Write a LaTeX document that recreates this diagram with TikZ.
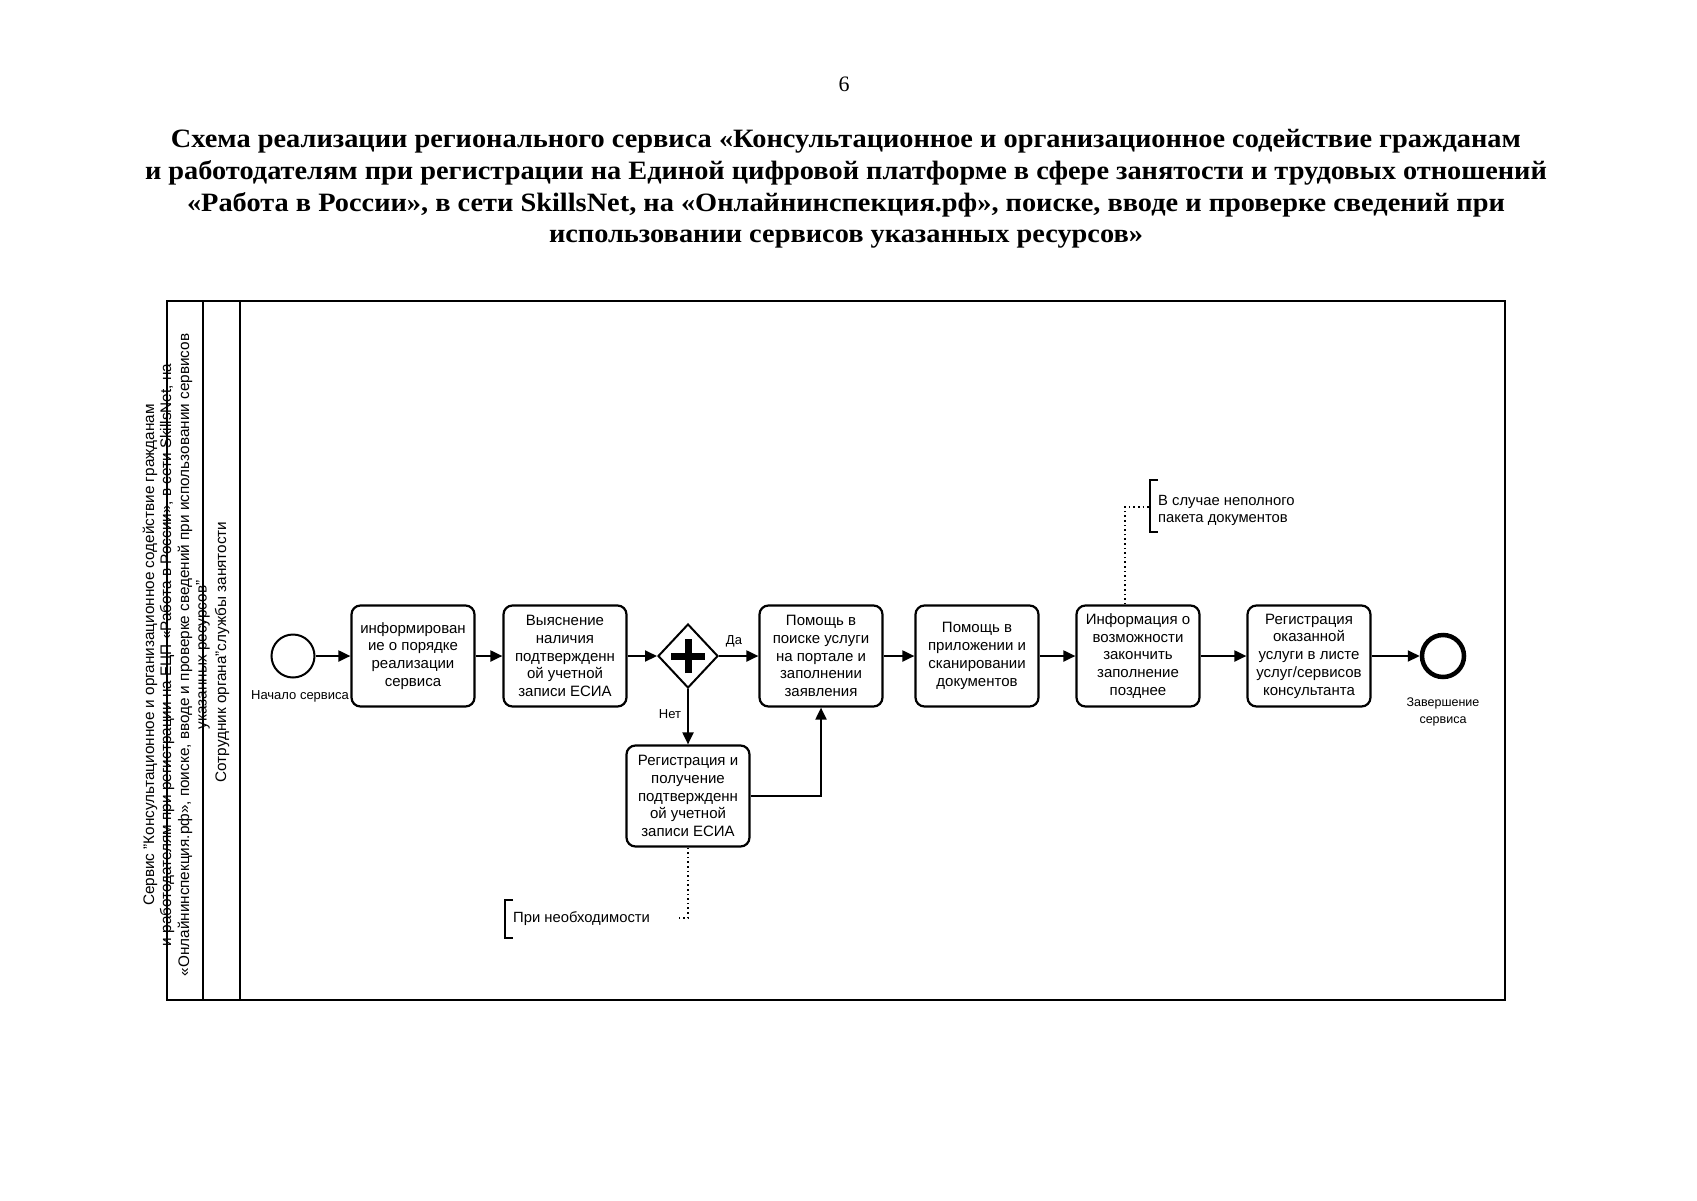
\documentclass[tikz,border=0pt]{standalone}
\usepackage{fontspec}
\setmainfont{Liberation Sans}
\newfontfamily\titlefont{Liberation Serif}
\newfontfamily\titlewide[FakeStretch=1.07]{Liberation Serif}
\usetikzlibrary{arrows.meta,shapes.geometric}
\begin{document}
\begin{tikzpicture}[x=1pt,y=-1pt,
  task/.style={draw, line width=2.2pt, rounded corners=9pt, minimum width=123pt, minimum height=101pt, align=center, font=\fontsize{15}{17.8}\selectfont, inner sep=1pt},
  flow/.style={line width=2pt, -{Triangle[length=12pt,width=11pt]}},
  assoc/.style={line width=2pt, dash pattern=on 1.6pt off 3pt},
  lbl/.style={font=\fontsize{13}{16}\selectfont, inner sep=0pt},
  lane/.style={rotate=90, font=\fontsize{15.3}{17}\selectfont, inner sep=0pt},
  note/.style={draw=none, align=left, anchor=west, inner xsep=8pt, font=\fontsize{14.8}{17}\selectfont},
  bracket/.style={line width=2pt},
]
\useasboundingbox (0,0) rectangle (1697,1200);
\fill[white] (0,0) rectangle (1697,1200);

% header
\node[font=\titlefont\fontsize{22}{26}\selectfont] (pg) at (844,84) {6};
\node[align=center, font=\titlewide\bfseries\fontsize{26.5}{31.7}\selectfont] (title) at (846,189)
 {Схема реализации регионального сервиса «Консультационное и организационное содействие гражданам\\
  и работодателям при регистрации на Единой цифровой платформе в сфере занятости и трудовых отношений\\
  «Работа в России», в сети SkillsNet, на «Онлайнинспекция.рф», поиске, вводе и проверке сведений при\\
  использовании сервисов указанных ресурсов»};

% pool and lanes
\draw[line width=2pt] (167,301) rectangle (1505,1000);
\draw[line width=2pt] (203,301) -- (203,1000);
\draw[line width=2pt] (240,301) -- (240,1000);
\node[lane] (l1a) at (150,655) {Сервис "Консультационное и организационное содействие гражданам};
\node[lane] (l1b) at (167,655) {и работодателям при регистрации на ЕЦП «Работа в России», в сети SkillsNet, на};
\node[lane] (l1c) at (185,655) {«Онлайнинспекция.рф», поиске, вводе и проверке сведений при использовании сервисов};
\node[lane] (l1d) at (203,655) {указанных ресурсов"};
\node[lane] (l2) at (222,652) {Сотрудник органа"службы занятости};

% events
\node[draw, circle, line width=2pt, minimum size=43pt, inner sep=0pt] (s) at (293,656) {};
\node[lbl] (sl) at (300,696) {Начало сервиса};
\node[draw, circle, line width=4.5pt, minimum size=42pt, inner sep=0pt] (e) at (1443,656) {};
\node[lbl, align=center, font=\fontsize{12.5}{16.5}\selectfont] (el) at (1443,712) {Завершение\\сервиса};

% tasks
\node[task] (t1) at (413,656) {информирован\\ие о порядке\\реализации\\сервиса};
\node[task] (t2) at (565,656) {Выяснение\\наличия\\подтвержденн\\ой учетной\\записи ЕСИА};
\node[draw, diamond, line width=2pt, minimum width=60pt, minimum height=64pt, inner sep=0pt] (g) at (688,656) {};
\draw[line width=7pt] ([xshift=-17pt]g.center) -- ([xshift=17pt]g.center);
\draw[line width=7pt] ([yshift=-17pt]g.center) -- ([yshift=17pt]g.center);
\node[task] (t3) at (821,656) {Помощь в\\поиске услуги\\на портале и\\заполнении\\заявления};
\node[task] (t4) at (977,656) {Помощь в\\приложении и\\сканировании\\документов};
\node[task] (t5) at (1138,656) {Информация о\\возможности\\закончить\\заполнение\\позднее};
\node[task] (t6) at (1309,656) {Регистрация\\оказанной\\услуги в листе\\услуг/сервисов\\консультанта};
\node[task] (t7) at (688,796) {Регистрация и\\получение\\подтвержденн\\ой учетной\\записи ЕСИА};

% flows
\draw[flow] (s) -- (t1);
\draw[flow] (t1) -- (t2);
\draw[flow] (t2) -- (g);
\draw[flow] (g) -- (t3);
\draw[flow] (t3) -- (t4);
\draw[flow] (t4) -- (t5);
\draw[flow] (t5) -- (t6);
\draw[flow] (t6) -- (e);
\draw[flow] (g) -- (t7);
\draw[flow] (t7.east) -| (t3.south);
\node[lbl] (yes) at (734,641) {Да};
\node[lbl] (no) at (670,714) {Нет};

% annotations
\node[note, minimum height=52pt] (n1) at (1150,510) {В случае неполного\\пакета документов};
\draw[bracket] ([xshift=8pt,yshift=4pt]n1.north west) -- ([yshift=4pt]n1.north west) -- ([yshift=4pt]n1.south west) -- ([xshift=8pt,yshift=4pt]n1.south west);
\draw[assoc] ([xshift=-13pt]t5.north) |- ([yshift=3pt]n1.west);

\node[note, minimum height=38pt] (n2) at (505,919) {При необходимости};
\draw[bracket] ([xshift=8pt]n2.north west) -- (n2.north west) -- (n2.south west) -- ([xshift=8pt]n2.south west);
\coordinate (a2) at (677,918);
\draw[assoc] (t7.south) |- (a2);
\end{tikzpicture}
\end{document}
